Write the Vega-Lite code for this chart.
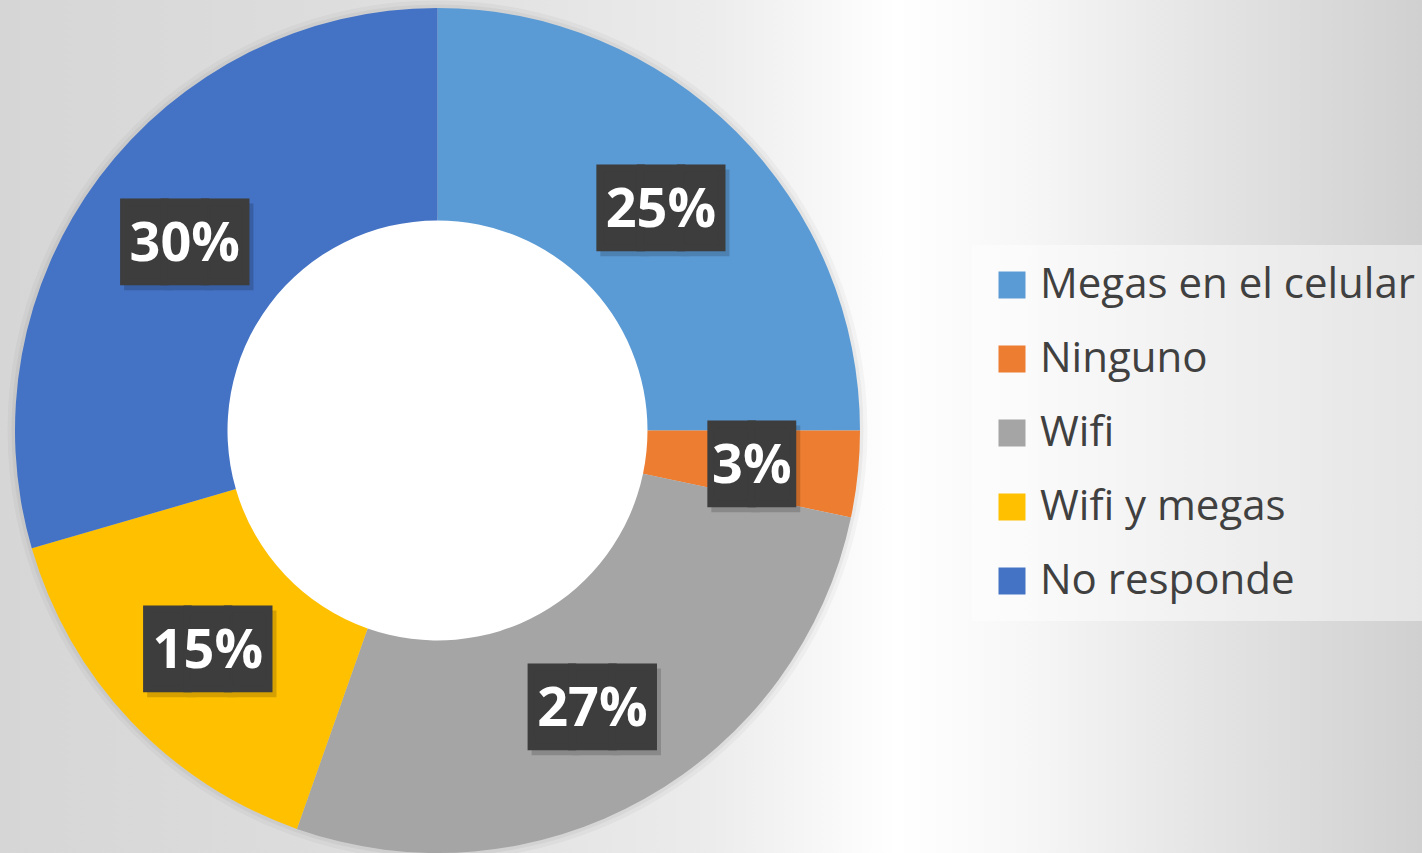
{
  "$schema": "https://vega.github.io/schema/vega-lite/v6.json",
  "autosize": {"type": "none"},
  "width": 875,
  "height": 845,
  "padding": {"left": 0, "top": 8, "right": 547, "bottom": 0},
  "background": "#e8e8e8",
  "config": {
    "view": {"stroke": null},
    "legend": {
      "orient": "none",
      "legendX": 972,
      "legendY": 237,
      "padding": 19,
      "fillColor": "rgba(255,255,255,0.45)",
      "symbolType": "square",
      "symbolSize": 729,
      "symbolStrokeWidth": 0,
      "symbolOpacity": 1,
      "labelFont": "Open Sans",
      "labelFontSize": 42,
      "labelColor": "#404040",
      "labelOffset": 7,
      "labelLimit": 700,
      "rowPadding": 32,
      "title": null
    }
  },
  "data": {
    "values": [
      {"categoria": "Megas en el celular", "orden": 1, "valor": 25.0, "etiqueta": "25%"},
      {"categoria": "Ninguno", "orden": 2, "valor": 3.3, "etiqueta": "3%"},
      {"categoria": "Wifi", "orden": 3, "valor": 27.1, "etiqueta": "27%"},
      {"categoria": "Wifi y megas", "orden": 4, "valor": 15.1, "etiqueta": "15%"},
      {"categoria": "No responde", "orden": 5, "valor": 29.5, "etiqueta": "30%"}
    ]
  },
  "layer": [
    {
      "data": {"values": [{"fondo": "fondo"}]},
      "mark": {
        "type": "arc",
        "theta": 0,
        "theta2": 6.2832,
        "outerRadius": 1200,
        "innerRadius": 0,
        "clip": false,
        "fill": {
          "gradient": "linear",
          "x1": 0.3177, "y1": 0.5, "x2": 0.9102, "y2": 0.5,
          "stops": [
            {"offset": 0, "color": "#d6d6d6"},
            {"offset": 0.3, "color": "#dfdfdf"},
            {"offset": 0.5, "color": "#ececec"},
            {"offset": 0.63, "color": "#ffffff"},
            {"offset": 0.72, "color": "#f7f7f7"},
            {"offset": 0.85, "color": "#e4e4e4"},
            {"offset": 1, "color": "#d0d0d0"}
          ]
        }
      },
      "encoding": {}
    },
    {
      "data": {"values": [{"sombra": "sombra"}]},
      "mark": {"type": "arc", "theta": 0, "theta2": 6.2832, "outerRadius": 430, "innerRadius": 214, "fill": "#000000", "opacity": 0.03},
      "encoding": {}
    },
    {
      "data": {"values": [{"sombra": "sombra"}]},
      "mark": {"type": "arc", "theta": 0, "theta2": 6.2832, "outerRadius": 426, "innerRadius": 214, "fill": "#000000", "opacity": 0.04},
      "encoding": {}
    },
    {
      "data": {"values": [{"hueco": "hueco"}]},
      "mark": {"type": "arc", "theta": 0, "theta2": 6.2832, "outerRadius": 211, "innerRadius": 0, "fill": "#ffffff"},
      "encoding": {}
    },
    {
      "mark": {"type": "arc", "outerRadius": 422.5, "innerRadius": 210},
      "encoding": {
        "theta": {"field": "valor", "type": "quantitative", "stack": true},
        "order": {"field": "orden", "type": "quantitative"},
        "color": {
          "field": "categoria",
          "type": "nominal",
          "sort": ["Megas en el celular", "Ninguno", "Wifi", "Wifi y megas", "No responde"],
          "scale": {
            "domain": ["Megas en el celular", "Ninguno", "Wifi", "Wifi y megas", "No responde"],
            "range": ["#5B9BD5", "#ED7D31", "#A5A5A5", "#FFC000", "#4472C4"]
          },
          "legend": {"title": null}
        }
      }
    },
    {
      "transform": [{"calculate": "replace(datum.etiqueta, regexp('.', 'g'), '█')", "as": "caja"}],
      "mark": {"type": "text", "radius": 316, "font": "DejaVu Sans Mono", "fontSize": 67, "align": "center", "baseline": "middle", "fill": "#000000", "stroke": "#000000", "strokeWidth": 7, "opacity": 0.16, "dx": 4, "dy": 9},
      "encoding": {
        "theta": {"field": "valor", "type": "quantitative", "stack": true},
        "order": {"field": "orden", "type": "quantitative"},
        "text": {"field": "caja"}
      }
    },
    {
      "transform": [{"calculate": "replace(datum.etiqueta, regexp('.', 'g'), '█')", "as": "caja"}],
      "mark": {"type": "text", "radius": 316, "font": "DejaVu Sans Mono", "fontSize": 67, "align": "center", "baseline": "middle", "fill": "#3d3d3d", "stroke": "#3d3d3d", "strokeWidth": 7, "dy": 4},
      "encoding": {
        "theta": {"field": "valor", "type": "quantitative", "stack": true},
        "order": {"field": "orden", "type": "quantitative"},
        "text": {"field": "caja"}
      }
    },
    {
      "mark": {"type": "text", "radius": 316, "font": "Open Sans", "fontWeight": "bold", "fontSize": 54, "align": "center", "baseline": "middle", "fill": "#ffffff", "dy": 4},
      "encoding": {
        "theta": {"field": "valor", "type": "quantitative", "stack": true},
        "order": {"field": "orden", "type": "quantitative"},
        "text": {"field": "etiqueta"}
      }
    }
  ]
}
